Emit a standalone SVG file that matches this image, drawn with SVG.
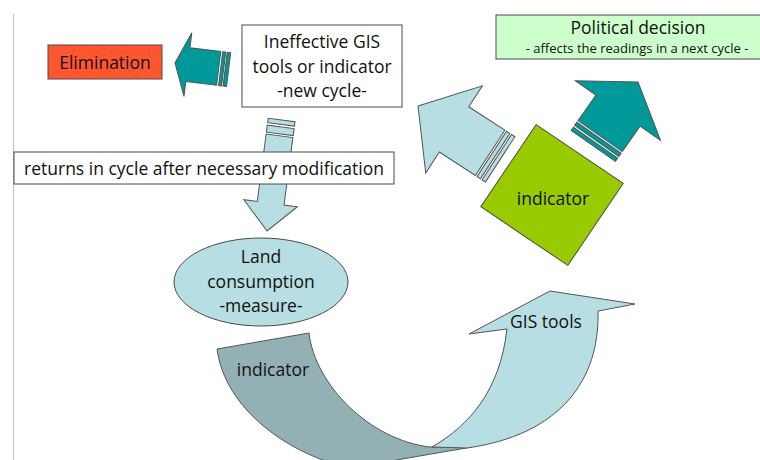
<svg xmlns="http://www.w3.org/2000/svg" width="760" height="460" viewBox="0 0 760 460">
<style>
  text { font-family: "Open Sans", "Liberation Sans", sans-serif; font-size: 17.5px; fill: #111; text-anchor: middle; }
  .box { stroke: #4a4a4a; stroke-width: 1; }
  .shape { stroke: #555; stroke-width: 1; stroke-linejoin: miter; }
  .teal { fill: #009999; }
  .lblue { fill: #B7DEE2; }
  .gray { fill: #93B1B5; }
  .small { font-size: 13px; }
</style>
<rect width="760" height="460" fill="#fff"/>
<line x1="13.5" y1="14" x2="13.5" y2="460" stroke="#c4c4c4" stroke-width="1.2"/>

<g id="connectors">
  <!-- elimination arrow -->
  <g id="arrow-elimination" class="shape teal" transform="translate(175,63) rotate(-83)">
    <polygon points="0,0 32,13 17,13 17,44 -17,44 -17,13 -32,13"/>
    <rect x="-17" y="46" width="34" height="3"/>
    <rect x="-17" y="50.5" width="34" height="3.5"/>
  </g>
  <!-- down arrow returns -->
  <g id="arrow-returns" class="shape lblue" transform="translate(267,231) rotate(187.5)">
    <polygon points="0,0 27,28 13.5,28 13.5,96 -13.5,96 -13.5,28 -27,28"/>
    <rect x="-13.5" y="98" width="27" height="7"/>
    <rect x="-13.5" y="107.5" width="27" height="4.5"/>
  </g>
  <!-- up-left arrow from indicator -->
  <g id="arrow-ineffective" class="shape lblue" transform="translate(418,106) rotate(-57)">
    <polygon points="0,0 52,43 27,43 27,86 -27,86 -27,43 -52,43"/>
    <rect x="-27" y="88" width="54" height="4"/>
    <rect x="-27" y="94" width="54" height="4"/>
  </g>
  <!-- up-right arrow to political decision -->
  <g id="arrow-political" class="shape teal" transform="translate(638,82) rotate(35)">
    <polygon points="0,0 52,35 27,35 27,66 -27,66 -27,35 -52,35"/>
    <rect x="-27" y="68" width="54" height="4"/>
    <rect x="-27" y="74" width="54" height="4"/>
  </g>
  <!-- curved arrow: indicator (back) -->
  <g id="arrow-indicator">
    <path class="shape gray" d="M217,349 L309,333 C315,385 370,440 430,447 L472,447 L350,468 C290,455 225,410 217,349 Z"/>
    <text x="273" y="376">indicator</text>
  </g>
  <!-- curved arrow: GIS tools (front) -->
  <g id="arrow-gis">
    <path class="shape lblue" d="M432,447 C470,425 500,390 507,329 L469,334 L550,291 L635,304 L598,311 C600,380 560,435 467,448 Z"/>
    <text x="546" y="328">GIS tools</text>
  </g>
</g>

<g id="node-elimination">
  <rect class="box" x="48" y="45" width="114" height="34" fill="#FF5630"/>
  <text x="105" y="69">Elimination</text>
</g>

<g id="node-ineffective">
  <rect class="box" x="242" y="25" width="160" height="82" fill="#fff"/>
  <text x="322" y="48">Ineffective GIS</text>
  <text x="322" y="73">tools or indicator</text>
  <text x="322" y="97">-new cycle-</text>
</g>

<g id="node-returns">
  <rect class="box" x="14" y="152" width="380" height="32" fill="#fff"/>
  <text x="204" y="175">returns in cycle after necessary modification</text>
</g>

<g id="node-land">
  <ellipse class="box" cx="261" cy="282" rx="87" ry="44" fill="#B7DEE2"/>
  <text x="261" y="263">Land</text>
  <text x="261" y="288">consumption</text>
  <text x="261" y="312">-measure-</text>
</g>

<g id="node-indicator">
  <rect class="box" x="-52.5" y="-49.5" width="105" height="99" fill="#99CC00" transform="translate(552,195) rotate(34)"/>
  <text x="553" y="205">indicator</text>
</g>

<g id="node-political">
  <rect class="box" x="496" y="15" width="270" height="44" fill="#CCFFCC"/>
  <text x="638" y="34">Political decision</text>
  <text class="small" x="637" y="53">- affects the readings in a next cycle -</text>
</g>
</svg>
